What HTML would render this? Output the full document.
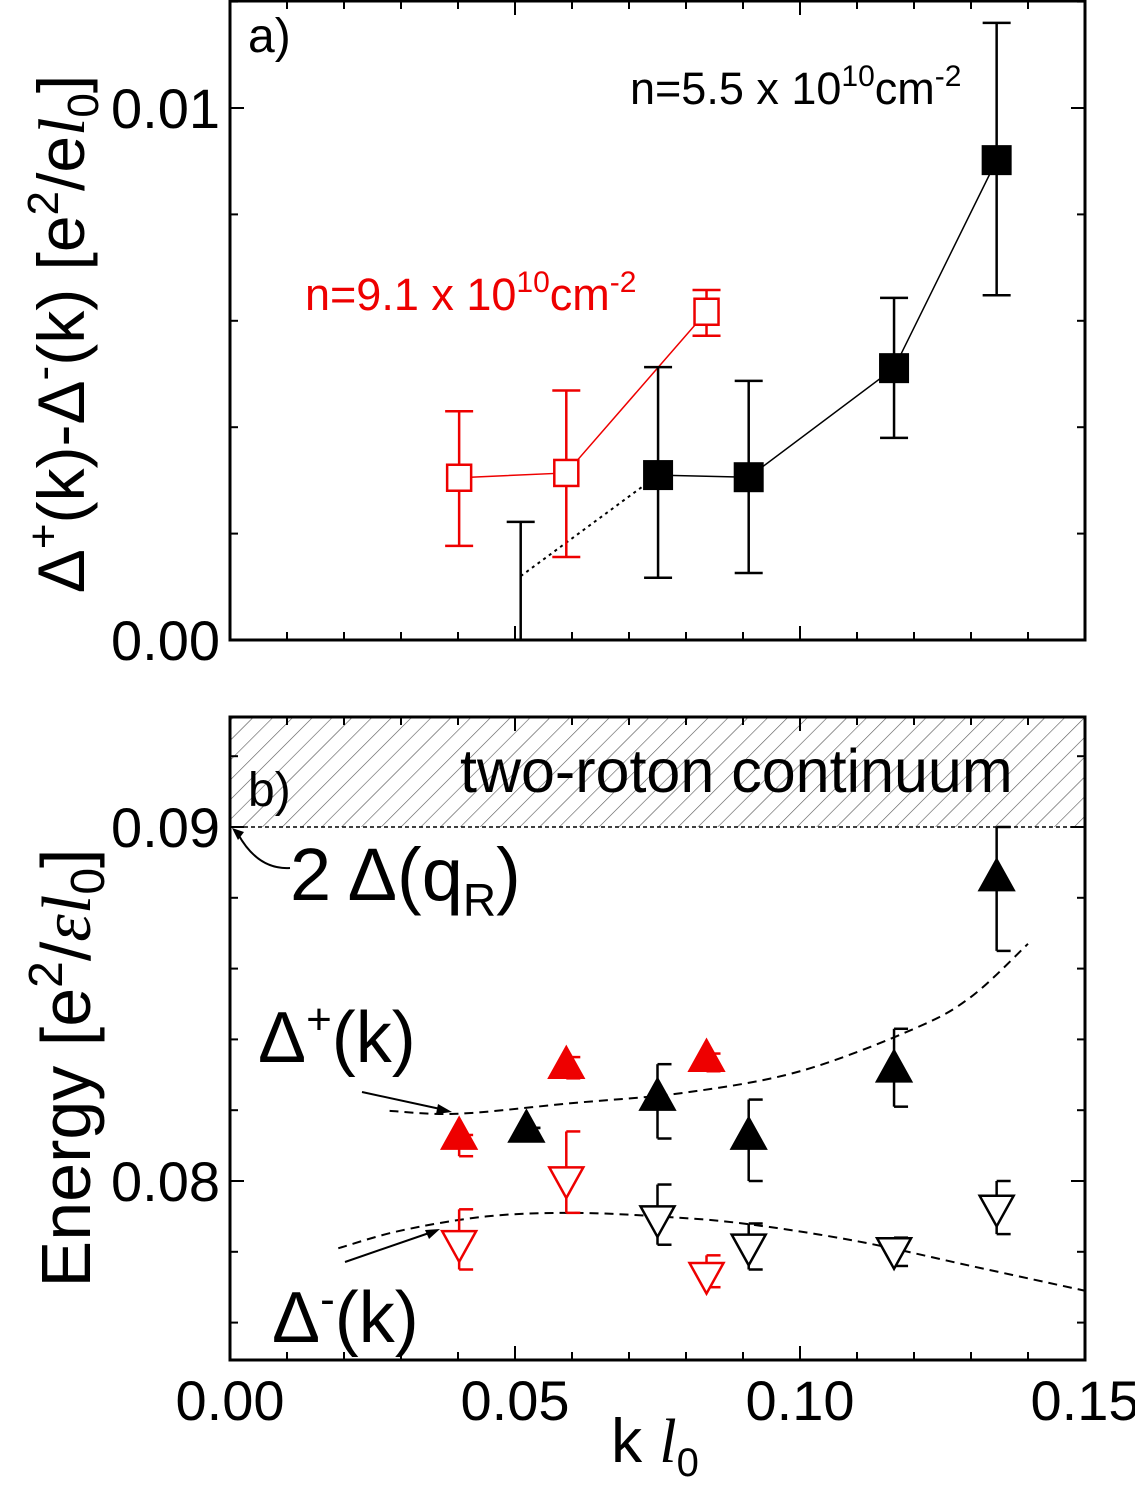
<!DOCTYPE html>
<html><head><meta charset="utf-8"><style>
body{margin:0;background:#fff}
svg{display:block;font-family:"Liberation Sans",sans-serif}
</style></head><body>
<svg id="c" width="1135" height="1494" viewBox="0 0 1135 1494">
<defs><pattern id="hatch" width="14" height="14" patternUnits="userSpaceOnUse" patternTransform="rotate(45)"><line x1="0" y1="0" x2="0" y2="14" stroke="#555" stroke-width="1.2"/></pattern></defs>
</svg>
<script>
// Panel a data
const aBlackX=[0.0751,0.091,0.1165,0.1345];
const aBlackY=[0.0031,0.00306,0.00511,0.00902];
const aBlackErrHi=[0.00513,0.00487,0.00643,0.01160];
const aBlackErrLo=[0.00117,0.00126,0.00380,0.00648];
const aOrphanX=[0.051];const aOrphanY=[0.0012];const aOrphanHi=[0.00222];
const aRedX=[0.0402,0.059,0.0836];
const aRedY=[0.00305,0.00314,0.00617];
const aRedErrHi=[0.00430,0.00469,0.00658];
const aRedErrLo=[0.00177,0.00156,0.00572];
// Panel b data
const bUpBlackX=[0.052,0.075,0.091,0.1165,0.1345];
const bUpBlackY=[0.0815,0.0824,0.0813,0.0832,0.0886];
const bUpBlackHi=[0.0815,0.0833,0.0823,0.0843,0.0900];
const bUpBlackLo=[0.0815,0.0812,0.0800,0.0821,0.0865];
const bUpRedX=[0.0402,0.059,0.0836];
const bUpRedY=[0.0813,0.0833,0.0835];
const bUpRedHi=[0.0813,0.0835,0.0836];
const bUpRedLo=[0.0807,0.0829,0.0831];
const bDnBlackX=[0.075,0.091,0.1165,0.1345];
const bDnBlackY=[0.0789,0.0781,0.0780,0.0792];
const bDnBlackHi=[0.0799,0.0788,0.0784,0.0800];
const bDnBlackLo=[0.0782,0.0775,0.0776,0.0785];
const bDnRedX=[0.0402,0.059,0.0836];
const bDnRedY=[0.0782,0.0800,0.0773];
const bDnRedHi=[0.0792,0.0814,0.0779];
const bDnRedLo=[0.0775,0.0791,0.0770];
const fitUpX=[0.028,0.04,0.06,0.08,0.10,0.12,0.13,0.14];
const fitUpY=[0.08198,0.0819,0.0822,0.0825,0.0831,0.0843,0.0852,0.0867];
const fitDnX=[0.019,0.03,0.045,0.06,0.075,0.09,0.11,0.13,0.15];
const fitDnY=[0.0781,0.0786,0.0790,0.0791,0.0790,0.0788,0.0783,0.0776,0.0769];
const xTicks=[0,0.05,0.10,0.15];const xTickLabels=["0.00","0.05","0.10","0.15"];

const svg=document.getElementById('c');const NS='http://www.w3.org/2000/svg';
function el(t,a,p){const e=document.createElementNS(NS,t);for(const k in a)e.setAttribute(k,a[k]);(p||svg).appendChild(e);return e;}
const L=230,R=1085;
const X=v=>L+(v-0)/0.15*(R-L);
const aT=0,aB=640,Ya=v=>640-v*53200;
const bT=717,bB=1360,Yb=v=>827-(v-0.09)*35400;

let h=el('rect',{x:L,y:bT,width:R-L,height:827-bT,fill:'url(#hatch)'});

let dl=el('line',{x1:L,y1:827,x2:R,y2:827,stroke:'#000','stroke-width':1.5,'stroke-dasharray':'4,3'});


function frame(top,bot,name){let r=el('rect',{x:L,y:top,width:R-L,height:bot-top,fill:'none',stroke:'#000','stroke-width':3});

for(let i=0;i<=15;i++){const x=X(i*0.01);const len=i%5==0?14:8;
el('line',{x1:x,y1:bot,x2:x,y2:bot-len,stroke:'#000','stroke-width':2});
el('line',{x1:x,y1:top,x2:x,y2:top+len,stroke:'#000','stroke-width':2});}}
frame(aT+1,aB,'panel-a-frame');frame(bT,bB,'panel-b-frame');
function yt(y,major){const len=major?14:8;el('line',{x1:L,y1:y,x2:L+len,y2:y,stroke:'#000','stroke-width':2});el('line',{x1:R,y1:y,x2:R-len,y2:y,stroke:'#000','stroke-width':2});}
for(let i=0;i<=6;i++){const v=i*0.002;if(Ya(v)>aT)yt(Ya(v),i%5==0);}
for(let i=0;i<=9;i++){const v=0.076+i*0.002;const y=Yb(v);if(y>bT&&y<bB)yt(y,Math.abs(v-0.08)<1e-6||Math.abs(v-0.09)<1e-6);}
function txt(s,x,y,o,name){const t=el('text',Object.assign({x:x,y:y,'font-size':40},o||{}));t.innerHTML=s;return t;}
txt('0.01',220,Ya(0.01)+20,{'text-anchor':'end','font-size':56},'y-tick-a-0.01');
txt('0.00',220,Ya(0)+20,{'text-anchor':'end','font-size':56},'y-tick-a-0.00');
txt('0.09',220,Yb(0.09)+20,{'text-anchor':'end','font-size':56},'y-tick-b-0.09');
txt('0.08',220,Yb(0.08)+20,{'text-anchor':'end','font-size':56},'y-tick-b-0.08');
xTicks.forEach((v,i)=>txt(xTickLabels[i],X(v),1420,{'text-anchor':'middle','font-size':56},'x-tick-'+xTickLabels[i]));
txt('k <tspan font-style="italic" font-family="Liberation Serif">l</tspan><tspan font-size="40" dy="14">0</tspan>',655,1462,{'text-anchor':'middle','font-size':62},'x-axis-title');
txt('Δ<tspan font-size="44" dy="-26">+</tspan><tspan dy="26">(k)-Δ</tspan><tspan font-size="44" dy="-26">-</tspan><tspan dy="26">(k) [e</tspan><tspan font-size="44" dy="-26">2</tspan><tspan dy="26">/e</tspan><tspan font-style="italic" font-family="Liberation Serif">l</tspan><tspan font-size="44" dy="14">0</tspan><tspan dy="-14">]</tspan>',0,0,{'text-anchor':'middle','font-size':66,transform:'translate(84,334) rotate(-90)'},'y-axis-title-a');
txt('Energy [e<tspan font-size="48" dy="-28">2</tspan><tspan dy="28">/</tspan><tspan font-style="italic" font-family="Liberation Serif">εl</tspan><tspan font-size="48" dy="14">0</tspan><tspan dy="-14">]</tspan>',0,0,{'text-anchor':'middle','font-size':70,transform:'translate(90,1068) rotate(-90)'},'y-axis-title-b');
txt('a)',248,52,{'font-size':48},'panel-a-label');
txt('b)',248,806,{'font-size':48},'panel-b-label');
txt('n=5.5 x 10<tspan font-size="30" dy="-18">10</tspan><tspan dy="18">cm</tspan><tspan font-size="30" dy="-18">-2</tspan>',630,104,{'font-size':45},'legend-black-density');
txt('n=9.1 x 10<tspan font-size="30" dy="-18">10</tspan><tspan dy="18">cm</tspan><tspan font-size="30" dy="-18">-2</tspan>',305,310,{'font-size':45,fill:'#e00'},'legend-red-density');
txt('two-roton continuum',460,792,{'font-size':61},'continuum-label');
txt('2 Δ(q<tspan font-size="46" dy="16">R</tspan><tspan dy="-16">)</tspan>',290,900,{'font-size':74},'two-delta-qr-label');
txt('Δ<tspan font-size="44" dy="-28">+</tspan><tspan dy="28">(k)</tspan>',258,1062,{'font-size':72},'delta-plus-label');
txt('Δ<tspan font-size="44" dy="-28">-</tspan><tspan dy="28">(k)</tspan>',272,1342,{'font-size':72},'delta-minus-label');
el('path',{d:'M290 868 Q258 870 238 834',fill:'none',stroke:'#000','stroke-width':2});
el('path',{d:'M232 828 l12 4 l-6 8 z',fill:'#000'});
el('line',{x1:362,y1:1092,x2:445,y2:1110,stroke:'#000','stroke-width':2});
el('path',{d:'M452 1112 l-14 -8 l-2 10 z',fill:'#000'});
el('line',{x1:345,y1:1262,x2:432,y2:1232,stroke:'#000','stroke-width':2});
el('path',{d:'M440 1229 l-15 1 l4 9 z',fill:'#000'});

function errbar(x,y1,y2,color,name){const g=el('g',{stroke:color,'stroke-width':2.5});
el('line',{x1:x,y1:y1,x2:x,y2:y2},g);el('line',{x1:x-14,y1:y1,x2:x+14,y2:y1},g);el('line',{x1:x-14,y1:y2,x2:x+14,y2:y2},g);}
function line(xs,ys,Y,color,dash,w,name){const p=el('polyline',{points:xs.map((x,i)=>X(x)+','+Y(ys[i])).join(' '),fill:'none',stroke:color,'stroke-width':w||1.5});if(dash)p.setAttribute('stroke-dasharray',dash);}
function smooth(xs,ys,Y,name){const P=xs.map((x,i)=>[X(x),Y(ys[i])]);let d='M'+P[0][0]+' '+P[0][1];
for(let i=0;i<P.length-1;i++){const p0=P[Math.max(0,i-1)],p1=P[i],p2=P[i+1],p3=P[Math.min(P.length-1,i+2)];
d+=` C${p1[0]+(p2[0]-p0[0])/6} ${p1[1]+(p2[1]-p0[1])/6} ${p2[0]-(p3[0]-p1[0])/6} ${p2[1]-(p3[1]-p1[1])/6} ${p2[0]} ${p2[1]}`;}
const p=el('path',{d:d,fill:'none',stroke:'#000','stroke-width':2,'stroke-dasharray':'9,6'});}

line(aRedX,aRedY,Ya,'#e00',null,1.5,'red-connector-line');
line(aBlackX,aBlackY,Ya,'#000',null,1.5,'black-connector-line');
line([aOrphanX[0],aBlackX[0]],[aOrphanY[0],aBlackY[0]],Ya,'#000','3,4',2,'dotted-extrapolation');
let o=el('line',{x1:X(aOrphanX[0]),y1:Ya(aOrphanHi[0]),x2:X(aOrphanX[0]),y2:aB,stroke:'#000','stroke-width':2.5});

el('line',{x1:X(aOrphanX[0])-14,y1:Ya(aOrphanHi[0]),x2:X(aOrphanX[0])+14,y2:Ya(aOrphanHi[0]),stroke:'#000','stroke-width':2.5});
aBlackX.forEach((x,i)=>{errbar(X(x),Ya(aBlackErrHi[i]),Ya(aBlackErrLo[i]),'#000','black-errorbar-a');
const r=el('rect',{x:X(x)-15,y:Ya(aBlackY[i])-15,width:30,height:30,fill:'#000'});});
aRedX.forEach((x,i)=>{errbar(X(x),Ya(aRedErrHi[i]),Ya(aRedErrLo[i]),'#e00','red-errorbar-a');
const r=el('rect',{x:X(x)-12,y:Ya(aRedY[i])-13,width:24,height:26,fill:'#fff',stroke:'#e00','stroke-width':2.5});});

smooth(fitUpX,fitUpY,Yb,'fit-delta-plus');
smooth(fitDnX,fitDnY,Yb,'fit-delta-minus');
function tri(x,y,up,fill,stroke,name){const s=17;const d=up?`M${x} ${y-s} L${x+s} ${y+s*0.8} L${x-s} ${y+s*0.8} Z`:`M${x} ${y+s} L${x+s} ${y-s*0.8} L${x-s} ${y-s*0.8} Z`;
const p=el('path',{d:d,fill:fill,stroke:stroke,'stroke-width':2.5});}
function half(x,yc,yEnd,color){el('line',{x1:x,y1:yc,x2:x,y2:yEnd,stroke:color,'stroke-width':2.5});el('line',{x1:x,y1:yEnd,x2:x+14,y2:yEnd,stroke:color,'stroke-width':2.5});}
bUpBlackX.forEach((x,i)=>{half(X(x),Yb(bUpBlackY[i]),Yb(bUpBlackHi[i]),'#000');half(X(x),Yb(bUpBlackY[i]),Yb(bUpBlackLo[i]),'#000');tri(X(x),Yb(bUpBlackY[i]),true,'#000','#000','black-up-triangle');});
bUpRedX.forEach((x,i)=>{half(X(x),Yb(bUpRedY[i]),Yb(bUpRedHi[i]),'#e00');half(X(x),Yb(bUpRedY[i]),Yb(bUpRedLo[i]),'#e00');tri(X(x),Yb(bUpRedY[i]),true,'#e00','#e00','red-up-triangle');});
bDnBlackX.forEach((x,i)=>{half(X(x),Yb(bDnBlackY[i]),Yb(bDnBlackHi[i]),'#000');half(X(x),Yb(bDnBlackY[i]),Yb(bDnBlackLo[i]),'#000');tri(X(x),Yb(bDnBlackY[i]),false,'#fff','#000','black-down-triangle');});
bDnRedX.forEach((x,i)=>{half(X(x),Yb(bDnRedY[i]),Yb(bDnRedHi[i]),'#e00');half(X(x),Yb(bDnRedY[i]),Yb(bDnRedLo[i]),'#e00');tri(X(x),Yb(bDnRedY[i]),false,'#fff','#e00','red-down-triangle');});
</script>
</body></html>
